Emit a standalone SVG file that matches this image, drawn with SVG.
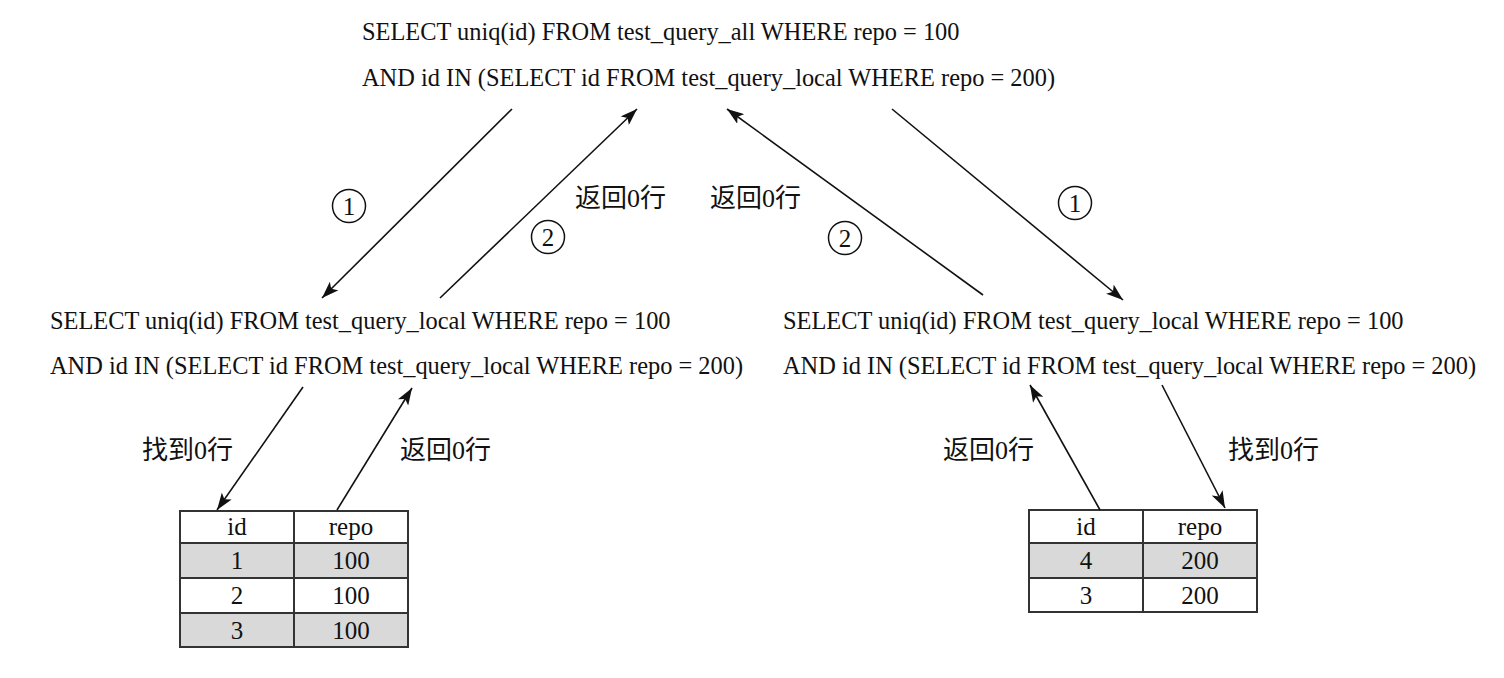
<svg xmlns="http://www.w3.org/2000/svg" width="1504" height="678" viewBox="0 0 1504 678">
<defs>
<marker id="ah" markerUnits="userSpaceOnUse" markerWidth="18" markerHeight="12" viewBox="0 0 18 12" refX="17" refY="6" orient="auto">
<path d="M0,0 L17,6 L0,12 L4,6 z" fill="#111"/>
</marker>
<style>
.sql{font-family:"Liberation Serif","Times New Roman",serif;font-size:24.4px;fill:#111}
.cn{font-family:"Liberation Serif","Noto Sans CJK SC",sans-serif;font-size:26px;fill:#111}
.num{font-family:"Liberation Serif",serif;font-size:25px;fill:#111;text-anchor:middle}
.cell{font-family:"Liberation Serif",serif;font-size:25px;fill:#111;text-anchor:middle}
.conn line{stroke:#111;stroke-width:1.6;marker-end:url(#ah)}
.circ{fill:none;stroke:#111;stroke-width:1.5}
.gray{fill:#d9d9d9}
.grid{fill:none;stroke:#333;stroke-width:2}
</style>
</defs>
<rect width="1504" height="678" fill="#fff"/>

<g id="top-query">
<text class="sql" x="362" y="40">SELECT uniq(id) FROM test_query_all WHERE repo = 100</text>
<text class="sql" x="362" y="86">AND id IN (SELECT id FROM test_query_local WHERE repo = 200)</text>
</g>

<g id="left-query">
<text class="sql" x="50" y="329">SELECT uniq(id) FROM test_query_local WHERE repo = 100</text>
<text class="sql" x="50" y="374">AND id IN (SELECT id FROM test_query_local WHERE repo = 200)</text>
</g>

<g id="right-query">
<text class="sql" x="783" y="329">SELECT uniq(id) FROM test_query_local WHERE repo = 100</text>
<text class="sql" x="783" y="374">AND id IN (SELECT id FROM test_query_local WHERE repo = 200)</text>
</g>

<g id="left-table">
<rect class="gray" x="180" y="543" width="228" height="35"/>
<rect class="gray" x="180" y="613" width="228" height="34"/>
<rect class="grid" x="180" y="511" width="228" height="136"/>
<path class="grid" d="M180,543 H408 M180,578 H408 M180,613 H408 M294,511 V647"/>
<text class="cell" x="237" y="535">id</text>
<text class="cell" x="351" y="535">repo</text>
<text class="cell" x="237" y="569">1</text>
<text class="cell" x="351" y="569">100</text>
<text class="cell" x="237" y="604">2</text>
<text class="cell" x="351" y="604">100</text>
<text class="cell" x="237" y="639">3</text>
<text class="cell" x="351" y="639">100</text>
</g>

<g id="right-table">
<rect class="gray" x="1029" y="543" width="228" height="35"/>
<rect class="grid" x="1029" y="510" width="228" height="102"/>
<path class="grid" d="M1029,543 H1257 M1029,578 H1257 M1143,510 V612"/>
<text class="cell" x="1086" y="535">id</text>
<text class="cell" x="1200" y="535">repo</text>
<text class="cell" x="1086" y="569">4</text>
<text class="cell" x="1200" y="569">200</text>
<text class="cell" x="1086" y="604">3</text>
<text class="cell" x="1200" y="604">200</text>
</g>

<g id="connectors" class="conn">
<line x1="512" y1="109" x2="322" y2="298"/>
<line x1="440" y1="298" x2="637" y2="109"/>
<line x1="983" y1="295" x2="727" y2="109"/>
<line x1="892" y1="109" x2="1123" y2="300"/>
<line x1="303" y1="387" x2="217" y2="510"/>
<line x1="337" y1="510" x2="412" y2="388"/>
<line x1="1100" y1="510" x2="1030" y2="385"/>
<line x1="1162" y1="385" x2="1225" y2="508"/>
</g>

<g id="labels">
<circle class="circ" cx="349" cy="206" r="16.5"/>
<text class="num" x="349" y="214.5">1</text>
<circle class="circ" cx="548" cy="237" r="16.5"/>
<text class="num" x="548" y="245.5">2</text>
<circle class="circ" cx="845" cy="238" r="16.5"/>
<text class="num" x="845" y="246.5">2</text>
<circle class="circ" cx="1075" cy="203" r="16.5"/>
<text class="num" x="1075" y="211.5">1</text>
<text class="cn" x="575" y="207">返回0行</text>
<text class="cn" x="710" y="207">返回0行</text>
<text class="cn" x="142" y="459">找到0行</text>
<text class="cn" x="400" y="459">返回0行</text>
<text class="cn" x="943" y="459">返回0行</text>
<text class="cn" x="1228" y="459">找到0行</text>
</g>
</svg>
